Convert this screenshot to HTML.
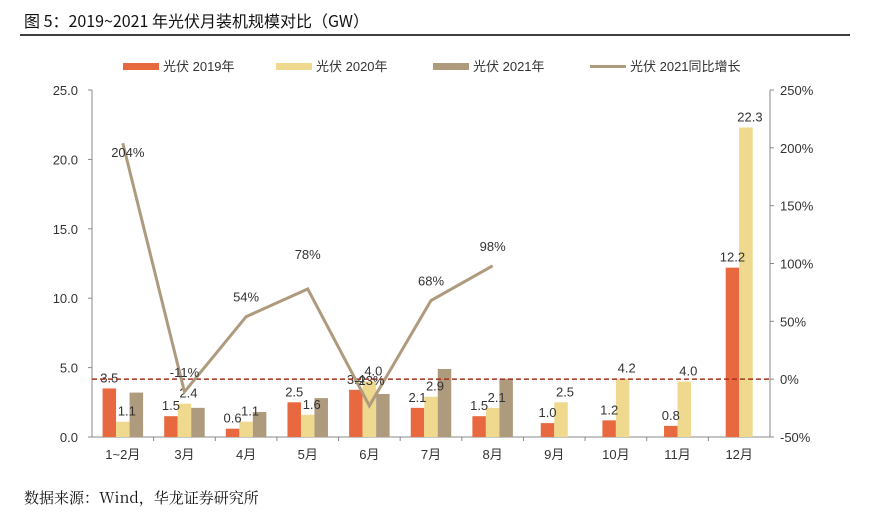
<!DOCTYPE html>
<html><head><meta charset="utf-8"><style>
body{margin:0;background:#fff;width:870px;height:515px;overflow:hidden;font-family:"Liberation Sans","Noto Sans CJK SC",sans-serif;}
</style></head><body>
<svg width="870" height="515" id="c" font-family="Liberation Sans, Noto Sans CJK SC, sans-serif">
<text x="24" y="27" font-size="16" font-family="Noto Sans CJK SC, sans-serif" fill="#111">图 5：2019~2021 年光伏月装机规模对比（GW）</text>
<line x1="20" y1="35" x2="850" y2="35" stroke="#000" stroke-width="1.5"/>
<g font-size="13" fill="#333">
<rect x="123" y="63" width="36" height="7" fill="#E8693F"/><text x="163" y="71">光伏 2019年</text>
<rect x="276" y="63" width="36" height="7" fill="#EED98E"/><text x="316" y="71">光伏 2020年</text>
<rect x="433" y="63" width="36" height="7" fill="#AE9B7E"/><text x="473" y="71">光伏 2021年</text>
<rect x="590" y="65" width="36" height="3" fill="#AE9B7E"/><text x="630" y="71">光伏 2021同比增长</text>
</g>
<g id="plot"></g>
<text x="24" y="503" font-size="15" font-family="Noto Serif CJK SC, Noto Sans CJK SC, serif" fill="#111">数据来源：Wind，华龙证券研究所</text>
</svg>
<script>
const categories=["1~2月","3月","4月","5月","6月","7月","8月","9月","10月","11月","12月"];
const s2019=[3.5,1.5,0.6,2.5,3.4,2.1,1.5,1.0,1.2,0.8,12.2];
const s2020=[1.1,2.4,1.1,1.6,4.0,2.9,2.1,2.5,4.2,4.0,22.3];
const s2021=[3.2,2.1,1.8,2.8,3.1,4.9,4.2];
const growth=[204,-11,54,78,-23,68,98];
const leftTicks=[0,5,10,15,20,25];
const rightTicks=[-50,0,50,100,150,200,250];
const X0=92,X1=770,Y0=437,Y1=90;
const ns="http://www.w3.org/2000/svg";
const g=document.getElementById('plot');
const band=(X1-X0)/categories.length;
const y=v=>Y0-(v/25)*(Y0-Y1);
const yr=v=>Y0-((v+50)/300)*(Y0-Y1);
const cx=i=>X0+band*(i+0.5);
function mk(t,a,txt){const e=document.createElementNS(ns,t);for(const k in a)e.setAttribute(k,a[k]);if(txt!==undefined)e.textContent=txt;g.appendChild(e);return e;}
let e;
e=mk('line',{x1:X0,y1:Y1,x2:X0,y2:Y0,stroke:'#888'});


e=mk('line',{x1:X1,y1:Y1,x2:X1,y2:Y0,stroke:'#888'});


e=mk('line',{x1:X0,y1:Y0,x2:X1,y2:Y0,stroke:'#888'});


leftTicks.forEach(t=>{mk('line',{x1:X0-4,y1:y(t),x2:X0,y2:y(t),stroke:'#888'});
e=mk('text',{x:X0-14,y:y(t)+5,'font-size':13,'text-anchor':'end',fill:'#333'},t.toFixed(1));

});
rightTicks.forEach(t=>{mk('line',{x1:X1,y1:yr(t),x2:X1+4,y2:yr(t),stroke:'#888'});
e=mk('text',{x:X1+10,y:yr(t)+5,'font-size':13,fill:'#333'},t+'%');

});
const bw=13.5;
categories.forEach((c,i)=>{
 if(i>0)mk('line',{x1:X0+band*i,y1:Y0,x2:X0+band*i,y2:Y0+4,stroke:'#888'});
 e=mk('text',{x:cx(i),y:Y0+22,'font-size':13,'text-anchor':'middle',fill:'#333'},c);
 
 
 const has21=i<s2021.length;
 const off=has21?[-bw,0,bw]:[-bw/2,bw/2];
 e=mk('rect',{x:cx(i)+off[0]-bw/2,y:y(s2019[i]),width:bw,height:Y0-y(s2019[i]),fill:'#E8693F'});
 
 
 e=mk('rect',{x:cx(i)+off[1]-bw/2,y:y(s2020[i]),width:bw,height:Y0-y(s2020[i]),fill:'#EED98E'});
 
 
 if(has21){e=mk('rect',{x:cx(i)+off[2]-bw/2,y:y(s2021[i]),width:bw,height:Y0-y(s2021[i]),fill:'#AE9B7E'});
 
 }
 e=mk('text',{x:cx(i)+off[0],y:y(s2019[i])-6,'font-size':13,'text-anchor':'middle',fill:'#333'},s2019[i].toFixed(1));
 
 
 e=mk('text',{x:cx(i)+off[1]+4,y:y(s2020[i])-6,'font-size':13,'text-anchor':'middle',fill:'#333'},s2020[i].toFixed(1));
 
 
});
e=mk('line',{x1:X0,y1:yr(0),x2:X1,y2:yr(0),stroke:'#A8321E','stroke-width':1.5,'stroke-dasharray':'5,3'});


e=mk('polyline',{points:growth.map((v,i)=>cx(i)+','+yr(v)).join(' '),fill:'none',stroke:'#AE9B7E','stroke-width':3});


growth.forEach((v,i)=>{
 let ly=yr(v)-15, lx=cx(i);
 if(v>150){ly=yr(v)+14;lx=cx(i)+5;}
 if(v>=70&&v<90)ly=yr(v)-30;
 if(v<0)ly=yr(0)-2+(v<-15?8:0);
 e=mk('text',{x:lx,y:ly,'font-size':13,'text-anchor':'middle',fill:'#333'},v+'%');
 
 });
</script>
</body></html>
